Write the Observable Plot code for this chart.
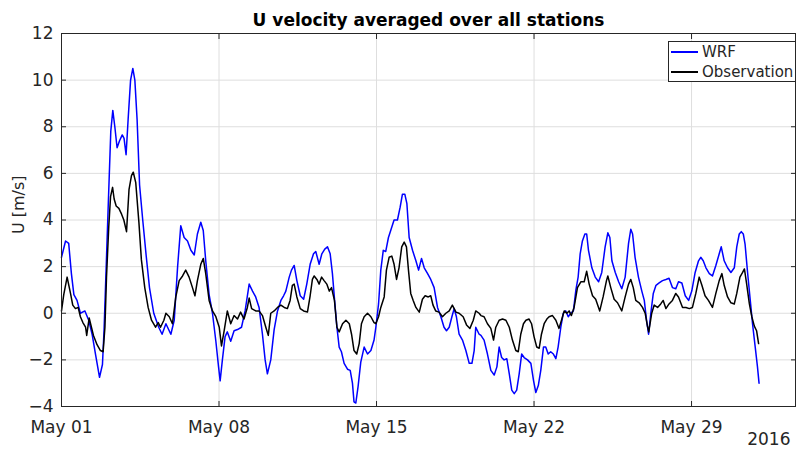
<!DOCTYPE html>
<html>
<head>
<meta charset="utf-8">
<script src="https://cdn.jsdelivr.net/npm/d3@7"></script>
<script src="https://cdn.jsdelivr.net/npm/@observablehq/plot@0.6"></script>
<style>
  html, body { margin: 0; padding: 0; background: #fff; }
  #wrap { position: relative; width: 796px; height: 455px; font-family: "DejaVu Sans", sans-serif; color: #262626; }
  #legend { position: absolute; left: 668px; top: 41px; width: 126px; height: 39px; border: 1px solid #262626; background: #fff; font-size: 15px; }
  .row { position: absolute; left: 2px; height: 20px; display: flex; align-items: center; }
  .sw { width: 27px; height: 0; border-top: 2px solid; margin-right: 4px; }
</style>
</head>
<body>
<div id="wrap"></div>
<script>
// ---- data (day offset from 2016-05-01 00:00 UTC, U in m/s) ----
const startDate = "2016-05-01";
const seriesNames = ["WRF", "Observation"];
const seriesColors = ["#0000ff", "#000000"];

const wrfPoints = [
  [0,2.4],[0.18,3.1],[0.32,3.0],[0.44,1.7],[0.55,0.8],[0.69,0.55],[0.84,0],[1.04,0.1],[1.21,-0.3],[1.36,-0.9],
  [1.51,-1.75],[1.69,-2.75],[1.82,-2.2],[1.89,-0.75],[1.99,2.1],[2.09,5.0],[2.19,7.8],[2.28,8.7],[2.37,8.0],[2.47,7.1],
  [2.58,7.4],[2.70,7.65],[2.78,7.5],[2.87,6.8],[2.96,8.3],[3.07,10.0],[3.17,10.5],[3.26,10.0],[3.36,8.3],[3.47,5.5],
  [3.61,4.0],[3.76,2.5],[3.91,1.1],[4.10,0],[4.32,-0.6],[4.47,-0.9],[4.64,-0.45],[4.86,-0.9],[5.01,-0.3],[5.16,2.0],
  [5.30,3.75],[5.45,3.25],[5.60,3.1],[5.75,2.7],[5.90,2.5],[6.04,3.4],[6.19,3.9],[6.30,3.55],[6.41,2.25],[6.56,0.8],
  [6.71,0],[6.86,-1.2],[6.98,-2.3],[7.05,-2.9],[7.15,-2.0],[7.27,-1.0],[7.37,-0.8],[7.52,-1.2],[7.67,-0.75],[7.82,-0.7],
  [8.0,-0.6],[8.16,0.1],[8.34,1.25],[8.49,0.95],[8.63,0.7],[8.78,0.25],[8.93,-0.9],[9.05,-2.0],[9.15,-2.6],[9.30,-2.0],
  [9.45,-0.7],[9.6,0.1],[9.75,0.55],[9.87,0.75],[9.97,0.95],[10.12,1.55],[10.22,1.85],[10.34,2.05],[10.46,1.4],[10.61,0.75],
  [10.76,0.6],[10.9,1.25],[11.05,2.1],[11.2,2.55],[11.3,2.65],[11.45,2.1],[11.57,2.55],[11.7,2.75],[11.82,2.85],[11.94,2.55],
  [12.04,1.7],[12.15,0.4],[12.24,-0.6],[12.34,-1.45],[12.44,-1.65],[12.56,-2.15],[12.71,-2.4],[12.83,-2.45],[12.93,-3.0],[13.0,-3.8],
  [13.08,-3.85],[13.18,-3.15],[13.3,-2.1],[13.45,-1.45],[13.6,-1.75],[13.75,-1.6],[13.89,-1.15],[13.97,-0.6],[14.09,0.4],[14.19,1.85],
  [14.3,2.7],[14.41,2.65],[14.53,3.25],[14.68,3.7],[14.78,4.0],[14.93,4.0],[15.05,4.55],[15.15,5.1],[15.26,5.1],[15.35,4.7],
  [15.45,3.25],[15.6,2.7],[15.75,2.25],[15.87,1.85],[16.0,2.35],[16.12,1.95],[16.27,1.7],[16.41,1.45],[16.56,1.1],[16.71,0.25],
  [16.86,-0.15],[17.0,-0.6],[17.11,-0.75],[17.23,-0.6],[17.35,-0.15],[17.45,0.2],[17.55,-0.15],[17.67,-0.9],[17.82,-1.15],[17.97,-1.6],
  [18.12,-2.15],[18.24,-2.15],[18.34,-1.6],[18.41,-0.6],[18.56,-0.9],[18.64,-0.95],[18.78,-1.15],[18.93,-1.75],[19.08,-2.45],[19.23,-2.65],
  [19.35,-2.3],[19.45,-1.45],[19.56,-1.9],[19.67,-2.0],[19.79,-1.95],[19.9,-2.6],[20.01,-3.3],[20.12,-3.45],[20.23,-3.3],[20.34,-2.6],
  [20.45,-1.75],[20.56,-1.9],[20.71,-2.0],[20.86,-2.15],[20.98,-2.9],[21.08,-3.4],[21.19,-3.1],[21.3,-2.45],[21.42,-1.45],[21.52,-1.45],
  [21.63,-1.75],[21.74,-1.65],[21.86,-1.75],[21.97,-1.95],[22.07,-1.45],[22.19,-0.6],[22.3,0],[22.41,0.1],[22.52,-0.15],[22.63,0],
  [22.75,0.1],[22.86,1.0],[22.96,1.55],[23.05,2.55],[23.15,3.1],[23.26,3.4],[23.34,3.4],[23.42,2.7],[23.57,1.95],[23.72,1.55],
  [23.87,1.35],[24.01,1.75],[24.16,2.85],[24.28,3.45],[24.37,3.25],[24.46,2.25],[24.61,1.75],[24.76,1.35],[24.9,1.05],[25.05,1.55],
  [25.2,3.0],[25.3,3.6],[25.38,3.4],[25.49,2.4],[25.64,1.55],[25.79,0.95],[25.9,0.55],[26.0,-0.3],[26.09,-0.9],[26.19,0],
  [26.3,0.85],[26.42,1.2],[26.56,1.3],[26.71,1.4],[26.86,1.45],[27.0,1.5],[27.15,1.1],[27.3,1.05],[27.42,1.35],[27.57,1.3],
  [27.72,0.75],[27.87,0.55],[28.01,0.95],[28.16,1.75],[28.31,2.25],[28.41,2.4],[28.52,2.25],[28.64,1.95],[28.79,1.7],[28.93,1.6],
  [29.08,2.05],[29.23,2.55],[29.32,2.85],[29.45,2.25],[29.6,1.95],[29.75,1.75],[29.9,1.95],[30.01,2.85],[30.12,3.4],[30.21,3.5],
  [30.3,3.4],[30.38,2.95],[30.49,1.75],[30.61,0.55],[30.71,-0.45],[30.83,-1.45],[30.93,-2.3],[31.0,-3.0]
];

const obsPoints = [
  [0,0.1],[0.10,0.8],[0.25,1.55],[0.40,0.85],[0.5,0.35],[0.62,0.2],[0.74,0.25],[0.84,-0.15],[0.95,-0.4],[1.07,-0.6],
  [1.12,-0.95],[1.23,-0.2],[1.33,-0.6],[1.42,-0.95],[1.58,-1.35],[1.73,-1.6],[1.85,-1.65],[1.93,-0.6],[2.0,1.55],[2.10,3.7],
  [2.18,5.0],[2.27,5.4],[2.34,4.9],[2.43,4.6],[2.55,4.5],[2.67,4.25],[2.77,4.0],[2.89,3.5],[3.0,5.3],[3.11,5.9],
  [3.19,6.05],[3.30,5.6],[3.44,3.9],[3.55,2.3],[3.70,1.1],[3.85,0.25],[4.0,-0.3],[4.18,-0.6],[4.3,-0.4],[4.4,-0.6],
  [4.55,-0.3],[4.64,0],[4.79,-0.15],[4.93,-0.45],[5.08,0.7],[5.23,1.4],[5.38,1.6],[5.52,1.85],[5.67,1.55],[5.82,1.1],
  [5.93,0.75],[6.04,1.4],[6.19,2.1],[6.30,2.35],[6.41,1.7],[6.56,0.55],[6.71,0.1],[6.86,-0.15],[7.01,-0.6],[7.11,-1.4],
  [7.23,-0.75],[7.37,0.1],[7.52,-0.45],[7.67,-0.1],[7.82,-0.25],[7.96,0.05],[8.11,-0.25],[8.26,0.25],[8.34,0.65],[8.45,0.2],
  [8.63,0.1],[8.78,0.1],[8.93,-0.1],[9.08,-0.6],[9.19,-0.95],[9.30,0],[9.45,0.1],[9.6,0.25],[9.75,0.35],[9.9,0.25],
  [10.04,0.2],[10.16,0.55],[10.26,1.2],[10.34,1.25],[10.46,0.7],[10.61,0.2],[10.76,0.1],[10.93,0.05],[11.05,0.75],[11.15,1.45],
  [11.23,1.6],[11.35,1.45],[11.45,1.25],[11.56,1.55],[11.67,1.4],[11.79,1.25],[11.9,0.95],[12.0,1.1],[12.13,0.55],[12.24,-0.6],
  [12.34,-0.8],[12.49,-0.45],[12.64,-0.3],[12.79,-0.45],[12.89,-0.9],[13.0,-1.6],[13.12,-1.75],[13.23,-1.3],[13.33,-0.45],[13.45,-0.15],
  [13.6,0],[13.75,-0.15],[13.89,-0.4],[13.97,-0.45],[14.09,-0.15],[14.19,0.25],[14.34,0.7],[14.44,1.85],[14.56,2.4],[14.68,2.45],
  [14.78,2.1],[14.89,1.45],[15.0,1.95],[15.12,2.85],[15.23,3.05],[15.33,2.85],[15.42,1.85],[15.52,0.85],[15.63,0.55],[15.75,0.25],
  [15.9,0.05],[16.04,0.6],[16.16,0.75],[16.3,0.7],[16.41,0.75],[16.51,0.35],[16.63,0.1],[16.78,0.05],[16.93,-0.15],[17.08,0],
  [17.23,0.1],[17.37,0.35],[17.53,0.05],[17.67,0],[17.85,-0.15],[18.0,-0.5],[18.15,-0.65],[18.3,-0.3],[18.41,0.1],[18.56,0],
  [18.64,-0.1],[18.78,-0.15],[18.93,-0.45],[19.08,-0.65],[19.2,-1.15],[19.3,-0.6],[19.45,-0.3],[19.6,-0.25],[19.75,-0.3],[19.9,-0.6],
  [20.04,-1.15],[20.19,-1.6],[20.3,-1.65],[20.41,-0.9],[20.53,-0.45],[20.64,-0.3],[20.78,-0.25],[20.89,-0.45],[21.0,-1.0],[21.12,-1.45],
  [21.23,-1.5],[21.33,-0.9],[21.45,-0.45],[21.57,-0.25],[21.67,-0.15],[21.82,-0.1],[21.97,-0.3],[22.11,-0.65],[22.22,-0.3],[22.34,0.1],
  [22.46,0],[22.56,0.1],[22.66,-0.1],[22.78,0.25],[22.93,1.1],[23.08,1.35],[23.23,1.35],[23.34,1.8],[23.45,1.25],[23.6,0.75],
  [23.74,0.6],[23.92,0.1],[24.07,0.7],[24.22,1.4],[24.28,1.6],[24.41,1.1],[24.56,0.6],[24.71,0.45],[24.9,0.1],[25.05,0.7],
  [25.2,1.25],[25.3,1.45],[25.41,1.1],[25.52,0.55],[25.67,0.45],[25.82,0.25],[25.94,0],[26.04,-0.55],[26.1,-0.8],[26.23,0],
  [26.34,0.35],[26.49,0.25],[26.63,0.4],[26.74,0.55],[26.86,0.2],[27.0,0.4],[27.15,0.55],[27.3,0.85],[27.42,0.7],[27.6,0.25],
  [27.75,0.25],[27.9,0.2],[28.04,0.25],[28.19,0.85],[28.34,1.55],[28.46,1.2],[28.6,0.75],[28.75,0.55],[28.93,0.25],[29.08,0.85],
  [29.23,1.4],[29.35,1.7],[29.45,1.2],[29.6,0.7],[29.75,0.45],[29.9,0.4],[30.01,0.85],[30.15,1.55],[30.27,1.75],[30.35,1.9],
  [30.45,1.25],[30.57,0.4],[30.68,-0.15],[30.79,-0.55],[30.89,-0.75],[30.98,-1.3]
];

const xTicks = ["2016-05-01", "2016-05-08", "2016-05-15", "2016-05-22", "2016-05-29"];
const xTickLabels = ["May 01", "May 08", "May 15", "May 22", "May 29"];
const yTicks = [-4, -2, 0, 2, 4, 6, 8, 10, 12];
const xDomainDays = [0, 32.62];
const yDomain = [-4, 12];
const titleText = "U velocity averaged over all stations";
const yLabelText = "U [m/s]";
const yearText = "2016";

// ---- build ----
const t0 = new Date(startDate + "T00:00:00Z").getTime();
const toDate = d => new Date(t0 + d * 864e5);
const rows = [
  ...wrfPoints.map(([d, u]) => ({date: toDate(d), u, series: seriesNames[0]})),
  ...obsPoints.map(([d, u]) => ({date: toDate(d), u, series: seriesNames[1]}))
];
const xTickDates = xTicks.map(s => new Date(s + "T00:00:00Z"));
const ink = "#262626";

const chart = Plot.plot({
  width: 796,
  height: 455,
  marginTop: 33,
  marginBottom: 49,
  marginLeft: 61,
  marginRight: 1,
  style: {fontFamily: "DejaVu Sans, sans-serif", fontSize: "17px", color: ink, background: "#fff"},
  x: {type: "utc", domain: xDomainDays.map(toDate), label: null},
  y: {domain: yDomain, label: null},
  color: {domain: seriesNames, range: seriesColors},
  marks: [
    Plot.gridY(yTicks, {stroke: "#dedede", strokeOpacity: 1}),
    Plot.gridX(xTickDates, {stroke: "#dedede", strokeOpacity: 1}),
    Plot.line(rows, {x: "date", y: "u", z: "series", stroke: "series", strokeWidth: 1.5}),
    Plot.frame({stroke: ink, strokeWidth: 1}),
    Plot.axisY(yTicks, {anchor: "left", tickSize: -5, tickPadding: 13, stroke: ink, label: null, fontSize: 17}),
    Plot.axisY(yTicks, {anchor: "right", tickSize: -5, text: null, stroke: ink, label: null}),
    Plot.axisX(xTickDates, {anchor: "bottom", tickSize: -5, tickPadding: 19, stroke: ink, label: null, fontSize: 17,
      tickFormat: (d, i) => xTickLabels[i]}),
    Plot.axisX(xTickDates, {anchor: "top", tickSize: -5, text: null, stroke: ink, label: null}),
    Plot.text([titleText], {text: d => d, frameAnchor: "top", dy: -8, lineAnchor: "bottom", fontWeight: "bold", fontSize: 17, fill: "#000"}),
    Plot.text([yLabelText], {text: d => d, frameAnchor: "left", dx: -43, dy: 14, rotate: -90, fontSize: 16, fill: ink}),
    Plot.text([yearText], {text: d => d, frameAnchor: "bottom-right", dx: -5, dy: 38, textAnchor: "end", fontSize: 17, fill: ink})
  ]
});
document.getElementById("wrap").appendChild(chart);

// legend (HTML)
const legend = document.createElement("div");
legend.id = "legend";
seriesNames.forEach((name, i) => {
  const row = document.createElement("div");
  row.className = "row";
  row.style.top = (i * 20) + "px";
  const sw = document.createElement("span");
  sw.className = "sw";
  sw.style.borderTopColor = seriesColors[i];
  const lab = document.createElement("span");
  lab.textContent = name;
  row.appendChild(sw);
  row.appendChild(lab);
  legend.appendChild(row);
});
document.getElementById("wrap").appendChild(legend);
</script>
</body>
</html>
